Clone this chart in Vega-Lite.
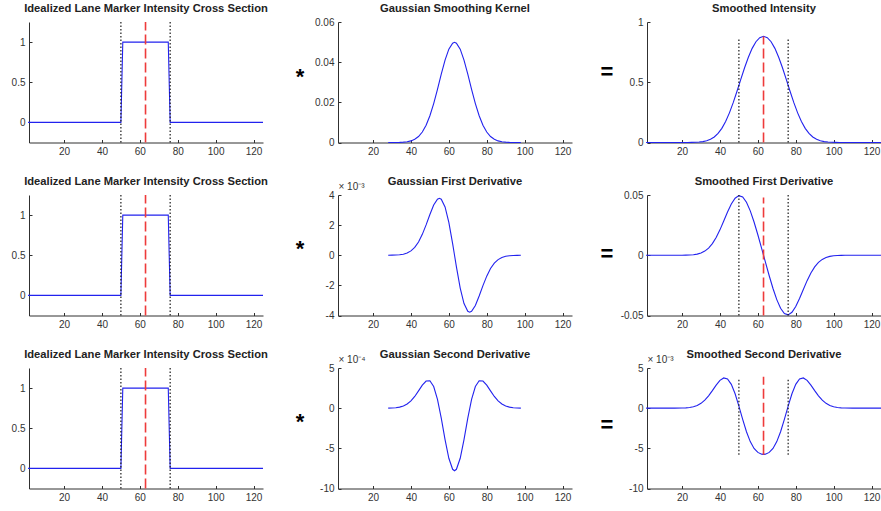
{
"$schema": "https://vega.github.io/schema/vega-lite/v6.json",
"padding": {"left": 11, "top": 2, "right": 0, "bottom": 0},
"background": "white",
"datasets": {
"step": [{"x":1,"y":0},{"x":50,"y":0},{"x":51,"y":1},{"x":75,"y":1},{"x":76,"y":0},{"x":125,"y":0}],
"kernel": [{"x":28,"y":0.0000035},{"x":30,"y":0.0000101},{"x":32,"y":0.0000274},{"x":34,"y":0.0000699},{"x":36,"y":0.000168},{"x":38,"y":0.000378},{"x":40,"y":0.0008},{"x":42,"y":0.00159},{"x":44,"y":0.00297},{"x":46,"y":0.00522},{"x":48,"y":0.0086},{"x":50,"y":0.01332},{"x":52,"y":0.01938},{"x":54,"y":0.02649},{"x":56,"y":0.03401},{"x":58,"y":0.04102},{"x":60,"y":0.04648},{"x":62,"y":0.04948},{"x":63,"y":0.04987},{"x":64,"y":0.04948},{"x":66,"y":0.04648},{"x":68,"y":0.04102},{"x":70,"y":0.03401},{"x":72,"y":0.02649},{"x":74,"y":0.01938},{"x":76,"y":0.01332},{"x":78,"y":0.0086},{"x":80,"y":0.00522},{"x":82,"y":0.00297},{"x":84,"y":0.00159},{"x":86,"y":0.0008},{"x":88,"y":0.000378},{"x":90,"y":0.000168},{"x":92,"y":0.0000699},{"x":94,"y":0.0000274},{"x":96,"y":0.0000101},{"x":98,"y":0.0000035}],
"smooth": [{"x":1,"y":0},{"x":17,"y":0},{"x":21,"y":0.0001},{"x":23,"y":0.0003},{"x":25,"y":0.0007},{"x":27,"y":0.0017},{"x":29,"y":0.0036},{"x":31,"y":0.0074},{"x":33,"y":0.0144},{"x":35,"y":0.0263},{"x":37,"y":0.0457},{"x":39,"y":0.0753},{"x":41,"y":0.1175},{"x":43,"y":0.1743},{"x":45,"y":0.2459},{"x":47,"y":0.3307},{"x":49,"y":0.4251},{"x":51,"y":0.5238},{"x":53,"y":0.6202},{"x":55,"y":0.7079},{"x":57,"y":0.7813},{"x":59,"y":0.8364},{"x":61,"y":0.8703},{"x":63,"y":0.8818},{"x":65,"y":0.8703},{"x":67,"y":0.8364},{"x":69,"y":0.7813},{"x":71,"y":0.7079},{"x":73,"y":0.6202},{"x":75,"y":0.5238},{"x":77,"y":0.4251},{"x":79,"y":0.3307},{"x":81,"y":0.2459},{"x":83,"y":0.1743},{"x":85,"y":0.1175},{"x":87,"y":0.0753},{"x":89,"y":0.0457},{"x":91,"y":0.0263},{"x":93,"y":0.0144},{"x":95,"y":0.0074},{"x":97,"y":0.0036},{"x":99,"y":0.0017},{"x":101,"y":0.0007},{"x":103,"y":0.0003},{"x":105,"y":0.0001},{"x":109,"y":0},{"x":125,"y":0}],
"d1": [{"x":28,"y":0.0000019},{"x":30,"y":0.0000052},{"x":32,"y":0.0000133},{"x":34,"y":0.0000317},{"x":36,"y":0.0000709},{"x":38,"y":0.000148},{"x":40,"y":0.000288},{"x":42,"y":0.000522},{"x":44,"y":0.000882},{"x":46,"y":0.001387},{"x":48,"y":0.002016},{"x":50,"y":0.002706},{"x":52,"y":0.003331},{"x":54,"y":0.003725},{"x":55,"y":0.003781},{"x":56,"y":0.00372},{"x":58,"y":0.003205},{"x":60,"y":0.002179},{"x":62,"y":0.000773},{"x":63,"y":0},{"x":64,"y":-0.000773},{"x":66,"y":-0.002179},{"x":68,"y":-0.003205},{"x":70,"y":-0.00372},{"x":71,"y":-0.003781},{"x":72,"y":-0.003725},{"x":74,"y":-0.003331},{"x":76,"y":-0.002706},{"x":78,"y":-0.002016},{"x":80,"y":-0.001387},{"x":82,"y":-0.000882},{"x":84,"y":-0.000522},{"x":86,"y":-0.000288},{"x":88,"y":-0.000148},{"x":90,"y":-0.0000709},{"x":92,"y":-0.0000317},{"x":94,"y":-0.0000133},{"x":96,"y":-0.0000052},{"x":98,"y":-0.0000019}],
"sd1": [{"x":1,"y":0},{"x":16,"y":0},{"x":20,"y":0.000035},{"x":22,"y":0.000088},{"x":24,"y":0.00021},{"x":26,"y":0.00046},{"x":28,"y":0.00096},{"x":30,"y":0.00187},{"x":32,"y":0.00344},{"x":34,"y":0.00595},{"x":36,"y":0.00965},{"x":38,"y":0.01471},{"x":40,"y":0.02108},{"x":42,"y":0.02836},{"x":44,"y":0.03585},{"x":46,"y":0.04252},{"x":48,"y":0.04736},{"x":50,"y":0.04946},{"x":52,"y":0.04833},{"x":54,"y":0.04397},{"x":56,"y":0.03681},{"x":58,"y":0.02758},{"x":60,"y":0.01701},{"x":62,"y":0.00574},{"x":63,"y":0},{"x":64,"y":-0.00574},{"x":66,"y":-0.01701},{"x":68,"y":-0.02758},{"x":70,"y":-0.03681},{"x":72,"y":-0.04397},{"x":74,"y":-0.04833},{"x":76,"y":-0.04946},{"x":78,"y":-0.04736},{"x":80,"y":-0.04252},{"x":82,"y":-0.03585},{"x":84,"y":-0.02836},{"x":86,"y":-0.02108},{"x":88,"y":-0.01471},{"x":90,"y":-0.00965},{"x":92,"y":-0.00595},{"x":94,"y":-0.00344},{"x":96,"y":-0.00187},{"x":98,"y":-0.00096},{"x":100,"y":-0.00046},{"x":102,"y":-0.00021},{"x":104,"y":-0.000088},{"x":106,"y":-0.000035},{"x":110,"y":0},{"x":125,"y":0}],
"d2": [{"x":28,"y":0.000001},{"x":30,"y":0.0000025},{"x":32,"y":0.000006},{"x":34,"y":0.0000133},{"x":36,"y":0.0000273},{"x":38,"y":0.0000518},{"x":40,"y":0.0000908},{"x":42,"y":0.000146},{"x":44,"y":0.000215},{"x":46,"y":0.000287},{"x":48,"y":0.000338},{"x":50,"y":0.000341},{"x":52,"y":0.00027},{"x":54,"y":0.00011},{"x":56,"y":-0.000125},{"x":58,"y":-0.000391},{"x":60,"y":-0.000624},{"x":62,"y":-0.000761},{"x":63,"y":-0.000779},{"x":64,"y":-0.000761},{"x":66,"y":-0.000624},{"x":68,"y":-0.000391},{"x":70,"y":-0.000125},{"x":72,"y":0.00011},{"x":74,"y":0.00027},{"x":76,"y":0.000341},{"x":78,"y":0.000338},{"x":80,"y":0.000287},{"x":82,"y":0.000215},{"x":84,"y":0.000146},{"x":86,"y":0.0000908},{"x":88,"y":0.0000518},{"x":90,"y":0.0000273},{"x":92,"y":0.0000133},{"x":94,"y":0.000006},{"x":96,"y":0.0000025},{"x":98,"y":0.000001}],
"sd2": [{"x":1,"y":0},{"x":16,"y":0},{"x":20,"y":0.000016},{"x":22,"y":0.000039},{"x":24,"y":0.000087},{"x":26,"y":0.000176},{"x":28,"y":0.000338},{"x":30,"y":0.000599},{"x":32,"y":0.000994},{"x":34,"y":0.001534},{"x":36,"y":0.002186},{"x":38,"y":0.002873},{"x":40,"y":0.003459},{"x":42,"y":0.003763},{"x":44,"y":0.003631},{"x":46,"y":0.002968},{"x":48,"y":0.001797},{"x":50,"y":0.000265},{"x":52,"y":-0.001394},{"x":54,"y":-0.002931},{"x":56,"y":-0.004163},{"x":58,"y":-0.005013},{"x":60,"y":-0.005505},{"x":62,"y":-0.005722},{"x":63,"y":-0.005746},{"x":64,"y":-0.005722},{"x":66,"y":-0.005505},{"x":68,"y":-0.005013},{"x":70,"y":-0.004163},{"x":72,"y":-0.002931},{"x":74,"y":-0.001394},{"x":76,"y":0.000265},{"x":78,"y":0.001797},{"x":80,"y":0.002968},{"x":82,"y":0.003631},{"x":84,"y":0.003763},{"x":86,"y":0.003459},{"x":88,"y":0.002873},{"x":90,"y":0.002186},{"x":92,"y":0.001534},{"x":94,"y":0.000994},{"x":96,"y":0.000599},{"x":98,"y":0.000338},{"x":100,"y":0.000176},{"x":102,"y":0.000087},{"x":104,"y":0.000039},{"x":106,"y":0.000016},{"x":110,"y":0},{"x":125,"y":0}],
"vlines": [
{"panel":"L","kind":"dot","x":50,"y0":-0.25,"y1":1.25},
{"panel":"L","kind":"dot","x":76,"y0":-0.25,"y1":1.25},
{"panel":"L","kind":"red","x":63,"y0":-0.25,"y1":1.25},
{"panel":"R1","kind":"dot","x":50,"y0":0,"y1":0.87},
{"panel":"R1","kind":"dot","x":76,"y0":0,"y1":0.87},
{"panel":"R1","kind":"red","x":63,"y0":0,"y1":0.88},
{"panel":"R2","kind":"dot","x":50,"y0":-0.05,"y1":0.05},
{"panel":"R2","kind":"dot","x":76,"y0":-0.05,"y1":0.05},
{"panel":"R2","kind":"red","x":63,"y0":-0.05,"y1":0.048},
{"panel":"R3","kind":"dot","x":50,"y0":-0.0058,"y1":0.0037},
{"panel":"R3","kind":"dot","x":76,"y0":-0.0058,"y1":0.0037},
{"panel":"R3","kind":"red","x":63,"y0":-0.0058,"y1":0.0039}
],
"ops": [
{"panel":"M1","x":-18.6,"y":0.0328,"t":"*"},
{"panel":"M2","x":-18.6,"y":0.00041,"t":"*"},
{"panel":"M3","x":-18.6,"y":-0.000167,"t":"*"},
{"panel":"R1","x":-19.7,"y":0.588,"t":"="},
{"panel":"R2","x":-19.7,"y":0.00095,"t":"="},
{"panel":"R3","x":-19.7,"y":-0.00205,"t":"="}
]
},
"columns": 3,
"spacing": {"row": 52, "column": 75},
"bounds": "flush",
"concat": [
{"width":234,"height":120.5,"title":{"text":"Idealized Lane Marker Intensity Cross Section","offset":7},"layer":[
{"data":{"name":"step"},"mark":{"type":"line","color":"#2222ee","strokeWidth":1.1},"encoding":{"x":{"field":"x","type":"quantitative","scale":{"domain":[1.5,125],"nice":false,"zero":false},"axis":{"title":null,"values":[20,40,60,80,100,120],"tickCount":20}},"y":{"field":"y","type":"quantitative","scale":{"domain":[-0.25,1.25],"nice":false,"zero":false},"axis":{"title":null,"values":[0,0.5,1],"tickCount":20,"labelExpr":"'' + datum.value"}}}},
{"data":{"name":"vlines"},"transform":[{"filter":"datum.panel == 'L' && datum.kind == 'dot'"}],"mark":{"type":"rule","color":"#1a1a1a","strokeDash":[1.5,2],"strokeWidth":1.2},"encoding":{"x":{"field":"x","type":"quantitative"},"y":{"field":"y0","type":"quantitative"},"y2":{"field":"y1"}}},
{"data":{"name":"vlines"},"transform":[{"filter":"datum.panel == 'L' && datum.kind == 'red'"}],"mark":{"type":"rule","color":"#ee3b3b","strokeDash":[10,4],"strokeWidth":1.6},"encoding":{"x":{"field":"x","type":"quantitative"},"y":{"field":"y0","type":"quantitative"},"y2":{"field":"y1"}}}
]},
{"width":234,"height":120.5,"title":{"text":"Gaussian Smoothing Kernel","offset":3},"layer":[
{"data":{"name":"kernel"},"mark":{"type":"line","color":"#2222ee","strokeWidth":1.1},"encoding":{"x":{"field":"x","type":"quantitative","scale":{"domain":[1.5,125],"nice":false,"zero":false},"axis":{"title":null,"values":[20,40,60,80,100,120],"tickCount":20}},"y":{"field":"y","type":"quantitative","scale":{"domain":[0,0.06],"nice":false,"zero":false},"axis":{"title":null,"values":[0,0.02,0.04,0.06],"tickCount":20,"labelExpr":"'' + datum.value"}}}},
{"data":{"name":"ops"},"transform":[{"filter":"datum.panel == 'M1'"}],"mark":{"type":"text","font":"Liberation Sans","fontSize":22,"fontWeight":"bold","color":"#000","align":"center","baseline":"middle"},"encoding":{"x":{"field":"x","type":"quantitative"},"y":{"field":"y","type":"quantitative"},"text":{"field":"t"}}}
]},
{"width":234,"height":120.5,"title":{"text":"Smoothed Intensity","offset":3},"layer":[
{"data":{"name":"smooth"},"mark":{"type":"line","color":"#2222ee","strokeWidth":1.1},"encoding":{"x":{"field":"x","type":"quantitative","scale":{"domain":[1.5,125],"nice":false,"zero":false},"axis":{"title":null,"values":[20,40,60,80,100,120],"tickCount":20}},"y":{"field":"y","type":"quantitative","scale":{"domain":[0,1],"nice":false,"zero":false},"axis":{"title":null,"values":[0,0.5,1],"tickCount":20,"labelExpr":"'' + datum.value"}}}},
{"data":{"name":"vlines"},"transform":[{"filter":"datum.panel == 'R1' && datum.kind == 'dot'"}],"mark":{"type":"rule","color":"#1a1a1a","strokeDash":[1.5,2],"strokeWidth":1.2},"encoding":{"x":{"field":"x","type":"quantitative"},"y":{"field":"y0","type":"quantitative"},"y2":{"field":"y1"}}},
{"data":{"name":"vlines"},"transform":[{"filter":"datum.panel == 'R1' && datum.kind == 'red'"}],"mark":{"type":"rule","color":"#ee3b3b","strokeDash":[10,4],"strokeWidth":1.6},"encoding":{"x":{"field":"x","type":"quantitative"},"y":{"field":"y0","type":"quantitative"},"y2":{"field":"y1"}}},
{"data":{"name":"ops"},"transform":[{"filter":"datum.panel == 'R1'"}],"mark":{"type":"text","font":"Liberation Sans","fontSize":22,"fontWeight":"bold","color":"#000","align":"center","baseline":"middle"},"encoding":{"x":{"field":"x","type":"quantitative"},"y":{"field":"y","type":"quantitative"},"text":{"field":"t"}}}
]},
{"width":234,"height":120.5,"title":{"text":"Idealized Lane Marker Intensity Cross Section","offset":7},"layer":[
{"data":{"name":"step"},"mark":{"type":"line","color":"#2222ee","strokeWidth":1.1},"encoding":{"x":{"field":"x","type":"quantitative","scale":{"domain":[1.5,125],"nice":false,"zero":false},"axis":{"title":null,"values":[20,40,60,80,100,120],"tickCount":20}},"y":{"field":"y","type":"quantitative","scale":{"domain":[-0.25,1.25],"nice":false,"zero":false},"axis":{"title":null,"values":[0,0.5,1],"tickCount":20,"labelExpr":"'' + datum.value"}}}},
{"data":{"name":"vlines"},"transform":[{"filter":"datum.panel == 'L' && datum.kind == 'dot'"}],"mark":{"type":"rule","color":"#1a1a1a","strokeDash":[1.5,2],"strokeWidth":1.2},"encoding":{"x":{"field":"x","type":"quantitative"},"y":{"field":"y0","type":"quantitative"},"y2":{"field":"y1"}}},
{"data":{"name":"vlines"},"transform":[{"filter":"datum.panel == 'L' && datum.kind == 'red'"}],"mark":{"type":"rule","color":"#ee3b3b","strokeDash":[10,4],"strokeWidth":1.6},"encoding":{"x":{"field":"x","type":"quantitative"},"y":{"field":"y0","type":"quantitative"},"y2":{"field":"y1"}}}
]},
{"width":234,"height":120.5,"title":{"text":"Gaussian First Derivative","offset":-6},"layer":[
{"data":{"name":"d1"},"mark":{"type":"line","color":"#2222ee","strokeWidth":1.1},"encoding":{"x":{"field":"x","type":"quantitative","scale":{"domain":[1.5,125],"nice":false,"zero":false},"axis":{"title":null,"values":[20,40,60,80,100,120],"tickCount":20}},"y":{"field":"y","type":"quantitative","scale":{"domain":[-0.004,0.004],"nice":false,"zero":false},"axis":{"title":"× 10⁻³","titleAngle":0,"titleX":0,"titleY":-6,"titleAlign":"left","titleBaseline":"alphabetic","titleFontWeight":"normal","titleFontSize":10,"titleFont":"Liberation Sans","titleColor":"#333","values":[-0.004,-0.002,0,0.002,0.004],"tickCount":20,"labelExpr":"'' + round(datum.value*1000)"}}}},
{"data":{"name":"ops"},"transform":[{"filter":"datum.panel == 'M2'"}],"mark":{"type":"text","font":"Liberation Sans","fontSize":22,"fontWeight":"bold","color":"#000","align":"center","baseline":"middle"},"encoding":{"x":{"field":"x","type":"quantitative"},"y":{"field":"y","type":"quantitative"},"text":{"field":"t"}}}
]},
{"width":234,"height":120.5,"title":{"text":"Smoothed First Derivative","offset":3},"layer":[
{"data":{"name":"sd1"},"mark":{"type":"line","color":"#2222ee","strokeWidth":1.1},"encoding":{"x":{"field":"x","type":"quantitative","scale":{"domain":[1.5,125],"nice":false,"zero":false},"axis":{"title":null,"values":[20,40,60,80,100,120],"tickCount":20}},"y":{"field":"y","type":"quantitative","scale":{"domain":[-0.05,0.05],"nice":false,"zero":false},"axis":{"title":null,"values":[-0.05,0,0.05],"tickCount":20,"labelExpr":"'' + datum.value"}}}},
{"data":{"name":"vlines"},"transform":[{"filter":"datum.panel == 'R2' && datum.kind == 'dot'"}],"mark":{"type":"rule","color":"#1a1a1a","strokeDash":[1.5,2],"strokeWidth":1.2},"encoding":{"x":{"field":"x","type":"quantitative"},"y":{"field":"y0","type":"quantitative"},"y2":{"field":"y1"}}},
{"data":{"name":"vlines"},"transform":[{"filter":"datum.panel == 'R2' && datum.kind == 'red'"}],"mark":{"type":"rule","color":"#ee3b3b","strokeDash":[10,4],"strokeWidth":1.6},"encoding":{"x":{"field":"x","type":"quantitative"},"y":{"field":"y0","type":"quantitative"},"y2":{"field":"y1"}}},
{"data":{"name":"ops"},"transform":[{"filter":"datum.panel == 'R2'"}],"mark":{"type":"text","font":"Liberation Sans","fontSize":22,"fontWeight":"bold","color":"#000","align":"center","baseline":"middle"},"encoding":{"x":{"field":"x","type":"quantitative"},"y":{"field":"y","type":"quantitative"},"text":{"field":"t"}}}
]},
{"width":234,"height":120.5,"title":{"text":"Idealized Lane Marker Intensity Cross Section","offset":7},"layer":[
{"data":{"name":"step"},"mark":{"type":"line","color":"#2222ee","strokeWidth":1.1},"encoding":{"x":{"field":"x","type":"quantitative","scale":{"domain":[1.5,125],"nice":false,"zero":false},"axis":{"title":null,"values":[20,40,60,80,100,120],"tickCount":20}},"y":{"field":"y","type":"quantitative","scale":{"domain":[-0.25,1.25],"nice":false,"zero":false},"axis":{"title":null,"values":[0,0.5,1],"tickCount":20,"labelExpr":"'' + datum.value"}}}},
{"data":{"name":"vlines"},"transform":[{"filter":"datum.panel == 'L' && datum.kind == 'dot'"}],"mark":{"type":"rule","color":"#1a1a1a","strokeDash":[1.5,2],"strokeWidth":1.2},"encoding":{"x":{"field":"x","type":"quantitative"},"y":{"field":"y0","type":"quantitative"},"y2":{"field":"y1"}}},
{"data":{"name":"vlines"},"transform":[{"filter":"datum.panel == 'L' && datum.kind == 'red'"}],"mark":{"type":"rule","color":"#ee3b3b","strokeDash":[10,4],"strokeWidth":1.6},"encoding":{"x":{"field":"x","type":"quantitative"},"y":{"field":"y0","type":"quantitative"},"y2":{"field":"y1"}}}
]},
{"width":234,"height":120.5,"title":{"text":"Gaussian Second Derivative","offset":-6},"layer":[
{"data":{"name":"d2"},"mark":{"type":"line","color":"#2222ee","strokeWidth":1.1},"encoding":{"x":{"field":"x","type":"quantitative","scale":{"domain":[1.5,125],"nice":false,"zero":false},"axis":{"title":null,"values":[20,40,60,80,100,120],"tickCount":20}},"y":{"field":"y","type":"quantitative","scale":{"domain":[-0.001,0.0005],"nice":false,"zero":false},"axis":{"title":"× 10⁻⁴","titleAngle":0,"titleX":0,"titleY":-6,"titleAlign":"left","titleBaseline":"alphabetic","titleFontWeight":"normal","titleFontSize":10,"titleFont":"Liberation Sans","titleColor":"#333","values":[-0.001,-0.0005,0,0.0005],"tickCount":20,"labelExpr":"'' + round(datum.value*10000)"}}}},
{"data":{"name":"ops"},"transform":[{"filter":"datum.panel == 'M3'"}],"mark":{"type":"text","font":"Liberation Sans","fontSize":22,"fontWeight":"bold","color":"#000","align":"center","baseline":"middle"},"encoding":{"x":{"field":"x","type":"quantitative"},"y":{"field":"y","type":"quantitative"},"text":{"field":"t"}}}
]},
{"width":234,"height":120.5,"title":{"text":"Smoothed Second Derivative","offset":-6},"layer":[
{"data":{"name":"sd2"},"mark":{"type":"line","color":"#2222ee","strokeWidth":1.1},"encoding":{"x":{"field":"x","type":"quantitative","scale":{"domain":[1.5,125],"nice":false,"zero":false},"axis":{"title":null,"values":[20,40,60,80,100,120],"tickCount":20}},"y":{"field":"y","type":"quantitative","scale":{"domain":[-0.01,0.005],"nice":false,"zero":false},"axis":{"title":"× 10⁻³","titleAngle":0,"titleX":0,"titleY":-6,"titleAlign":"left","titleBaseline":"alphabetic","titleFontWeight":"normal","titleFontSize":10,"titleFont":"Liberation Sans","titleColor":"#333","values":[-0.01,-0.005,0,0.005],"tickCount":20,"labelExpr":"'' + round(datum.value*1000)"}}}},
{"data":{"name":"vlines"},"transform":[{"filter":"datum.panel == 'R3' && datum.kind == 'dot'"}],"mark":{"type":"rule","color":"#1a1a1a","strokeDash":[1.5,2],"strokeWidth":1.2},"encoding":{"x":{"field":"x","type":"quantitative"},"y":{"field":"y0","type":"quantitative"},"y2":{"field":"y1"}}},
{"data":{"name":"vlines"},"transform":[{"filter":"datum.panel == 'R3' && datum.kind == 'red'"}],"mark":{"type":"rule","color":"#ee3b3b","strokeDash":[10,4],"strokeWidth":1.6},"encoding":{"x":{"field":"x","type":"quantitative"},"y":{"field":"y0","type":"quantitative"},"y2":{"field":"y1"}}},
{"data":{"name":"ops"},"transform":[{"filter":"datum.panel == 'R3'"}],"mark":{"type":"text","font":"Liberation Sans","fontSize":22,"fontWeight":"bold","color":"#000","align":"center","baseline":"middle"},"encoding":{"x":{"field":"x","type":"quantitative"},"y":{"field":"y","type":"quantitative"},"text":{"field":"t"}}}
]}
],
"config": {
"view": {"stroke": null},
"axis": {"grid": false, "domainColor": "#303030", "tickColor": "#303030", "labelColor": "#333", "labelFont": "Liberation Sans", "labelFontSize": 10, "tickSize": -3, "labelPadding": 7, "labelOverlap": false},
"title": {"font": "Liberation Sans", "fontSize": 11.2, "fontWeight": "bold", "color": "#222", "anchor": "middle"}
}
}
